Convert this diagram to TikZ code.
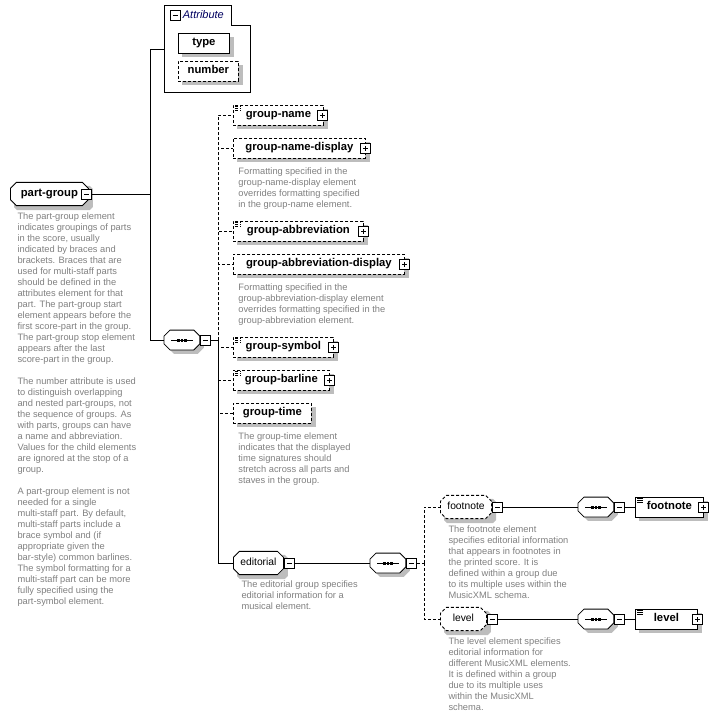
\documentclass[tikz,border=0pt]{standalone}
\usepackage{fontspec}
\setmainfont{Liberation Sans}
\usetikzlibrary{positioning,shapes.misc,calc,backgrounds}
\definecolor{doctext}{RGB}{128,128,128}
\definecolor{attrblue}{RGB}{0,0,96}

\begin{document}
\begin{tikzpicture}[x=1pt, y=-1pt, line width=0.8pt,
  shade box/.style={fill=black!26, draw=none},
  elem/.style={draw, fill=white, minimum height=20pt, anchor=west,
               inner xsep=4pt, text height=8.2pt, text depth=2.4pt,
               font=\fontsize{11.3}{13}\selectfont\bfseries},
  optional/.style={dash pattern=on 3pt off 2pt},
  hascontent/.style={path picture={
      \foreach \k in {1.6,3.2,4.8}
        \draw[line width=0.6pt] ([xshift=2pt,yshift=-\k pt]path picture bounding box.north west) -- ++(6pt,0pt);}},
  grp/.style={elem, chamfered rectangle, chamfered rectangle xsep=3pt,
              chamfered rectangle ysep=3pt, font=\fontsize{10.3}{12}\selectfont},
  seqbox/.style={minimum width=35pt, minimum height=19pt, anchor=west, inner sep=0pt},
  tog/.style={draw, fill=white, line width=1pt, minimum size=10pt, inner sep=0pt},
  togminus/.style={tog, path picture={
      \draw[line width=0.9pt] ([xshift=2.5pt]path picture bounding box.west) -- ([xshift=-2.5pt]path picture bounding box.east);}},
  togplus/.style={tog, path picture={
      \draw[line width=0.9pt] ([xshift=2.5pt]path picture bounding box.west) -- ([xshift=-2.5pt]path picture bounding box.east)
                              ([yshift=2.5pt]path picture bounding box.south) -- ([yshift=-2.5pt]path picture bounding box.north);}},
  doc/.style={align=left, inner sep=0pt, anchor=north west, text=doctext,
              font=\fontsize{9.3}{11}\selectfont},
  ]
  \useasboundingbox (0,0) rectangle (716,718);

  % root element
  \node[grp, font=\fontsize{11.3}{13}\selectfont\bfseries, minimum width=78pt] (pg) at (10,194) {part-group};
  \node[togminus] (pg-tog) at ([xshift=-2pt]pg.east) {};
  \node[doc, below right=9pt and 4pt of pg.south west] (pg-doc)
    {The part-group element\\ indicates groupings of parts\\ in the score, usually\\
     indicated by braces and\\ brackets. Braces that are\\ used for multi-staff parts\\
     should be defined in the\\ attributes element for that\\ part. The part-group start\\
     element appears before the\\ first score-part in the group.\\ The part-group stop element\\
     appears after the last\\ score-part in the group.\\[11pt]
     The number attribute is used\\ to distinguish overlapping\\ and nested part-groups, not\\
     the sequence of groups. As\\ with parts, groups can have\\ a name and abbreviation.\\
     Values for the child elements\\ are ignored at the stop of a\\ group.\\[11pt]
     A part-group element is not\\ needed for a single\\ multi-staff part. By default,\\
     multi-staff parts include a\\ brace symbol and (if\\ appropriate given the\\
     bar-style) common barlines.\\ The symbol formatting for a\\ multi-staff part can be more\\
     fully specified using the\\ part-symbol element.};

  % attributes
  \draw (164,5) -- (231,5) -- (231,25) -- (250,25) -- (250,92) -- (164,92) -- cycle;
  \node[togminus] (attr-tog) at (175,15) {};
  \node[right=2pt of attr-tog, inner sep=0pt, text=attrblue,
        font=\fontsize{11}{13}\selectfont\itshape] (attr-title) {Attribute};
  \coordinate (attr-in) at (164,49);
  \node[elem, minimum width=51pt] (att-type) at (178,43) {type};
  \node[elem, optional, minimum width=60pt] (att-number) at (178,71) {number};

  % sequence of part-group
  \node[seqbox] (seq1) at (164,340) {};
  \node[togminus, right=0pt of seq1] (seq1-tog) {};

  \node[elem, optional, hascontent, minimum width=90pt] (gname) at (233,115) {group-name};
  \node[togplus] (gname-tog) at ([xshift=-1pt]gname.east) {};
  \node[elem, optional, minimum width=132pt] (gnd) at (233,148) {group-name-display};
  \node[togplus] (gnd-tog) at (gnd.east) {};
  \node[doc, below right=9pt and 5pt of gnd.south west] (gnd-doc)
    {Formatting specified in the\\ group-name-display element\\ overrides formatting specified\\ in the group-name element.};
  \node[elem, optional, hascontent, minimum width=130pt] (gab) at (233,231) {group-abbreviation};
  \node[togplus] (gab-tog) at (gab.east) {};
  \node[elem, optional, minimum width=171pt] (gad) at (233,264) {group-abbreviation-display};
  \node[togplus] (gad-tog) at (gad.east) {};
  \node[doc, below right=9pt and 5pt of gad.south west] (gad-doc)
    {Formatting specified in the\\ group-abbreviation-display element\\ overrides formatting specified in the\\ group-abbreviation element.};
  \node[elem, optional, hascontent, minimum width=100pt] (gsym) at (233,347) {group-symbol};
  \node[togplus] (gsym-tog) at (gsym.east) {};
  \node[elem, optional, hascontent, minimum width=96pt] (gbar) at (233,380) {group-barline};
  \node[togplus] (gbar-tog) at (gbar.east) {};
  \node[elem, optional, minimum width=78pt] (gtime) at (233,413) {group-time};
  \node[doc, below right=9pt and 5pt of gtime.south west] (gtime-doc)
    {The group-time element\\ indicates that the displayed\\ time signatures should\\ stretch across all parts and\\ staves in the group.};

  % editorial group
  \node[grp, minimum width=48pt] (edit) at (233,563) {editorial};
  \node[togminus, right=0pt of edit] (edit-tog) {};
  \node[doc, below right=8pt and 5pt of edit.south west] (edit-doc)
    {The editorial group specifies\\ editorial information for a\\ musical element.};
  \node[seqbox] (seq2) at (370,563) {};
  \node[togminus, right=0pt of seq2] (seq2-tog) {};

  \node[grp, optional, minimum width=48pt] (fn) at (440,507) {footnote};
  \node[togminus, right=0pt of fn] (fn-tog) {};
  \node[doc, below right=9pt and 5pt of fn.south west] (fn-doc)
    {The footnote element\\ specifies editorial information\\ that appears in footnotes in\\ the printed score. It is\\
     defined within a group due\\ to its multiple uses within the\\ MusicXML schema.};
  \node[seqbox] (seq3) at (578,507) {};
  \node[togminus, right=0pt of seq3] (seq3-tog) {};
  \node[elem, hascontent, minimum width=68pt] (fn-leaf) at (635,507) {footnote};
  \node[togplus] (fn-leaf-tog) at (fn-leaf.east) {};

  \node[grp, optional, minimum width=46pt] (lv) at (440,619) {level};
  \node[togminus, right=0pt of lv] (lv-tog) {};
  \node[doc, below right=9pt and 5pt of lv.south west] (lv-doc)
    {The level element specifies\\ editorial information for\\ different MusicXML elements.\\ It is defined within a group\\
     due to its multiple uses\\ within the MusicXML\\ schema.};
  \node[seqbox] (seq4) at (578,619) {};
  \node[togminus, right=0pt of seq4] (seq4-tog) {};
  \node[elem, hascontent, minimum width=62pt] (lv-leaf) at (635,619) {level};
  \node[togplus] (lv-leaf-tog) at (lv-leaf.east) {};

  % sequence compositors: octagon with the three-dot symbol
  \foreach \s in {seq1,seq2,seq3,seq4} {
    \draw[fill=white] ($(\s.north west)+(6pt,0pt)$) -- ($(\s.north east)+(-6pt,0pt)$)
      -- ($(\s.north east)+(0pt,-6pt)$) -- ($(\s.south east)+(0pt,6pt)$)
      -- ($(\s.south east)+(-6pt,0pt)$) -- ($(\s.south west)+(6pt,0pt)$)
      -- ($(\s.south west)+(0pt,6pt)$) -- ($(\s.north west)+(0pt,-6pt)$) -- cycle;
    \draw[line width=1pt] ($(\s.west)+(7pt,0pt)$) -- ($(\s.east)+(-7pt,0pt)$);
    \foreach \d in {-3.5,0,3.5}
      \fill ($(\s.center)+(\d pt-1.4pt,-1.5pt)$) rectangle ($(\s.center)+(\d pt+1.4pt,1.5pt)$);
  }

  % connectors
  \coordinate (trunk-top) at (150,49);
  \coordinate (trunk-bot) at (150,340);
  \coordinate (seq1-j) at (218,340);
  \coordinate (seq2-j) at (424,563);
  \draw (pg-tog) -- (pg-tog -| trunk-top);
  \draw (trunk-top) -- (trunk-bot);
  \draw (trunk-top) -- (attr-in);
  \draw (trunk-bot) -- (seq1);
  \draw (seq1-tog) -- (seq1-j);
  \foreach \child in {gname,gnd,gab,gad,gsym,gbar,gtime}
    \draw[optional] (seq1-j) |- (\child.west);
  \draw (seq1-j) |- (edit.west);
  \draw (edit-tog) -- (seq2);
  \draw[optional] (seq2-tog) -- (seq2-j);
  \draw[optional] (seq2-j) |- (fn.west);
  \draw[optional] (seq2-j) |- (lv.west);
  \draw (fn-tog) -- (seq3);
  \draw (seq3-tog) -- (fn-leaf);
  \draw (lv-tog) -- (seq4);
  \draw (seq4-tog) -- (lv-leaf);

  % drop shadows
  \begin{scope}[on background layer]
    \foreach \n in {att-type,att-number,gname,gnd,gab,gad,gsym,gbar,gtime,fn-leaf,lv-leaf}
      \path[shade box] ($(\n.south west)+(4pt,-4pt)$) rectangle ($(\n.north east)+(4pt,-4pt)$);
    \foreach \n/\c in {pg/3pt,edit/3pt,fn/3pt,lv/3pt,seq1/6pt,seq2/6pt,seq3/6pt,seq4/6pt}
      \path[shade box] ($(\n.north -| \n.west)+(\c+4pt,-4pt)$) -- ($(\n.north -| \n.east)+(-\c+4pt,-4pt)$)
        -- ($(\n.north -| \n.east)+(4pt,-\c-4pt)$) -- ($(\n.south -| \n.east)+(4pt,\c-4pt)$)
        -- ($(\n.south -| \n.east)+(-\c+4pt,-4pt)$) -- ($(\n.south -| \n.west)+(\c+4pt,-4pt)$)
        -- ($(\n.south -| \n.west)+(4pt,\c-4pt)$) -- ($(\n.north -| \n.west)+(4pt,-\c-4pt)$) -- cycle;
  \end{scope}
\end{tikzpicture}
\end{document}
